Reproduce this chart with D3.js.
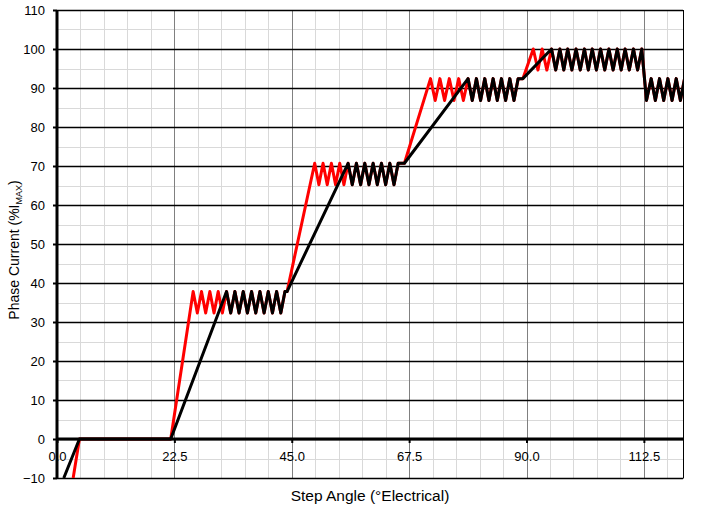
<!DOCTYPE html>
<html><head><meta charset="utf-8">
<script src="https://cdn.jsdelivr.net/npm/d3@7"></script>
<style>body{margin:0;background:#fff}svg{display:block}</style>
</head><body>
<svg id="c" width="709" height="517"></svg>
<script>
// ---- data ----
const xTickValues = [0, 22.5, 45, 67.5, 90, 112.5];
const xTickLabels = ["0.0", "22.5", "45.0", "67.5", "90.0", "112.5"];
const yTickValues = [-10, 0, 10, 20, 30, 40, 50, 60, 70, 80, 90, 100, 110];
const xTitle = "Step Angle (°Electrical)";

const blackLead = [[1.3,-10],[4.3,0],[21.8,0]];
const redLead   = [[3.1,-10],[4.3,0],[21.8,0]];

const redRise2 = [[26.1,37.8],[26.9,32.3],[27.7,37.8],[28.5,32.3],[29.3,37.8],[30.1,32.3],[30.9,37.8],[31.7,32.3]];
const chop2 = [[32.5,37.8],[33.3,32.3],[34.1,37.8],[34.9,32.3],[35.7,37.8],[36.5,32.3],[37.3,37.8],[38.1,32.3],
  [38.9,37.8],[39.7,32.3],[40.5,37.8],[41.3,32.3],[42.1,37.8],[42.9,32.3],[43.7,37.8],[44.1,37.8]];

const redRise3 = [[49.4,70.7],[50.2,65.2],[51.0,70.7],[51.8,65.2],[52.6,70.7],[53.4,65.2],[54.2,70.7],[55.0,65.2]];
const chop3 = [[55.8,70.7],[56.6,65.2],[57.4,70.7],[58.2,65.2],[59.0,70.7],[59.8,65.2],[60.6,70.7],[61.4,65.2],
  [62.2,70.7],[63.0,65.2],[63.8,70.7],[64.6,65.2],[65.4,70.7],[66.6,70.7]];

const redRise4 = [[71.6,92.4],[72.5,86.8],[73.4,92.4],[74.3,86.8],[75.2,92.4],[76.1,86.8],[77.0,92.4],[77.9,86.8]];
const chop4 = [[78.8,92.4],[79.6,86.8],[80.4,92.4],[81.2,86.8],[82.0,92.4],[82.8,86.8],[83.6,92.4],[84.4,86.8],
  [85.2,92.4],[86.0,86.8],[86.8,92.4],[87.6,86.8],[88.4,92.4],[89.3,92.4]];

const redRise5 = [[91.3,100],[92.2,94.6],[93.0,100],[93.9,94.6]];
const chop5 = [[94.8,100],[95.6,94.6],[96.4,100],[97.15,94.6],[97.9,100],[98.7,94.6],[99.5,100],[100.3,94.6],
  [101.1,100],[101.85,94.6],[102.6,100],[103.4,94.6],[104.2,100],[105.0,94.6],[105.8,100],[106.6,94.6],
  [107.4,100],[108.15,94.6],[108.9,100],[109.7,94.6],[110.5,100],[111.3,94.6],[112.1,100]];

const chop6 = [[113.0,86.8],[113.9,92.4],[114.7,86.8],[115.5,92.4],[116.3,86.8],[117.1,92.4],[117.9,86.8],
  [118.7,92.4],[119.5,86.8],[120.3,92.4]];

const blackSeries = [...blackLead, ...chop2, ...chop3, ...chop4, ...chop5, ...chop6];
const redSeries = [...redLead, ...redRise2, ...chop2, ...redRise3, ...chop3, ...redRise4, ...chop4,
  ...redRise5, ...chop5, ...chop6];

// ---- layout ----
const L = 57, R = 683, T = 10, B = 478;
const svg = d3.select("#c");
const x = d3.scaleLinear().domain([0, 120]).range([L, R]);
const y = d3.scaleLinear().domain([-10, 110]).range([B, T]);
const font = "'Liberation Sans', Arial, sans-serif";

// minor gridlines
const g = svg.append("g");
g.selectAll("line.xm").data(d3.range(4.5, 120, 4.5).filter(v => Math.abs(v/22.5 - Math.round(v/22.5)) > 1e-6))
  .join("line").attr("x1", d => Math.round(x(d)) + 0.5).attr("x2", d => Math.round(x(d)) + 0.5)
  .attr("y1", T).attr("y2", B).attr("stroke", "#d9d9d9").attr("stroke-width", 1);
g.selectAll("line.ym").data(d3.range(-5, 110, 10))
  .join("line").attr("y1", d => Math.round(y(d)) + 0.5).attr("y2", d => Math.round(y(d)) + 0.5)
  .attr("x1", L).attr("x2", R).attr("stroke", "#d9d9d9").attr("stroke-width", 1);
// major vertical (gray)
g.selectAll("line.xM").data(xTickValues.slice(1))
  .join("line").attr("x1", d => Math.round(x(d)) + 0.5).attr("x2", d => Math.round(x(d)) + 0.5)
  .attr("y1", T).attr("y2", B).attr("stroke", "#808080").attr("stroke-width", 1);
// major horizontal (black)
g.selectAll("line.yM").data(yTickValues)
  .join("line").attr("y1", d => Math.round(y(d)) + 0.5).attr("y2", d => Math.round(y(d)) + 0.5)
  .attr("x1", L).attr("x2", R).attr("stroke", "#000").attr("stroke-width", 1.3);
// right border
svg.append("line").attr("x1", R + 0.5).attr("x2", R + 0.5).attr("y1", T).attr("y2", B + 0.5)
  .attr("stroke", "#000").attr("stroke-width", 1);

// series
svg.append("clipPath").attr("id", "clip").append("rect")
  .attr("x", L).attr("y", T - 2).attr("width", R - L).attr("height", B - T + 2);
const line = d3.line().x(d => x(d[0])).y(d => y(d[1]));
const sg = svg.append("g").attr("clip-path", "url(#clip)");
sg.append("path").datum(redSeries).attr("d", line).attr("fill", "none")
  .attr("stroke", "#ff0000").attr("stroke-width", 3).attr("stroke-linejoin", "round");
sg.append("path").datum(blackSeries).attr("d", line).attr("fill", "none")
  .attr("stroke", "#000").attr("stroke-width", 3).attr("stroke-linejoin", "round");

// axes
const xAxis = d3.axisBottom(x).tickValues(xTickValues).tickSize(4).tickPadding(9)
  .tickFormat((d, i) => xTickLabels[i]);
const xa = svg.append("g").attr("transform", `translate(0,${y(0)})`).call(xAxis);
xa.select(".domain").attr("stroke", "#000").attr("stroke-width", 3).attr("d", `M${L},0H${R}`);
xa.selectAll(".tick line").attr("stroke", "#000").attr("stroke-width", 2);
xa.selectAll(".tick text").attr("font-family", font).attr("font-size", 13).attr("fill", "#000");

const yAxis = d3.axisLeft(y).tickValues(yTickValues).tickSize(4).tickPadding(8);
const ya = svg.append("g").attr("transform", `translate(${L},0)`).call(yAxis);
ya.select(".domain").attr("stroke", "#000").attr("stroke-width", 3).attr("d", `M0,${T}V${B}`);
ya.selectAll(".tick line").attr("stroke", "#000").attr("stroke-width", 2);
ya.selectAll(".tick text").attr("font-family", font).attr("font-size", 13).attr("fill", "#000");

// titles
svg.append("text").attr("x", 370).attr("y", 501).attr("text-anchor", "middle")
  .attr("font-family", font).attr("font-size", 15.5).attr("fill", "#000").text(xTitle);
const yt = svg.append("text").attr("transform", "translate(19,250) rotate(-90)")
  .attr("text-anchor", "middle").attr("font-family", font).attr("font-size", 14).attr("fill", "#000");
yt.append("tspan").text("Phase Current (%I");
yt.append("tspan").attr("font-size", 9).attr("dy", 3).text("MAX");
yt.append("tspan").attr("dy", -3).text(")");
</script>
</body></html>
